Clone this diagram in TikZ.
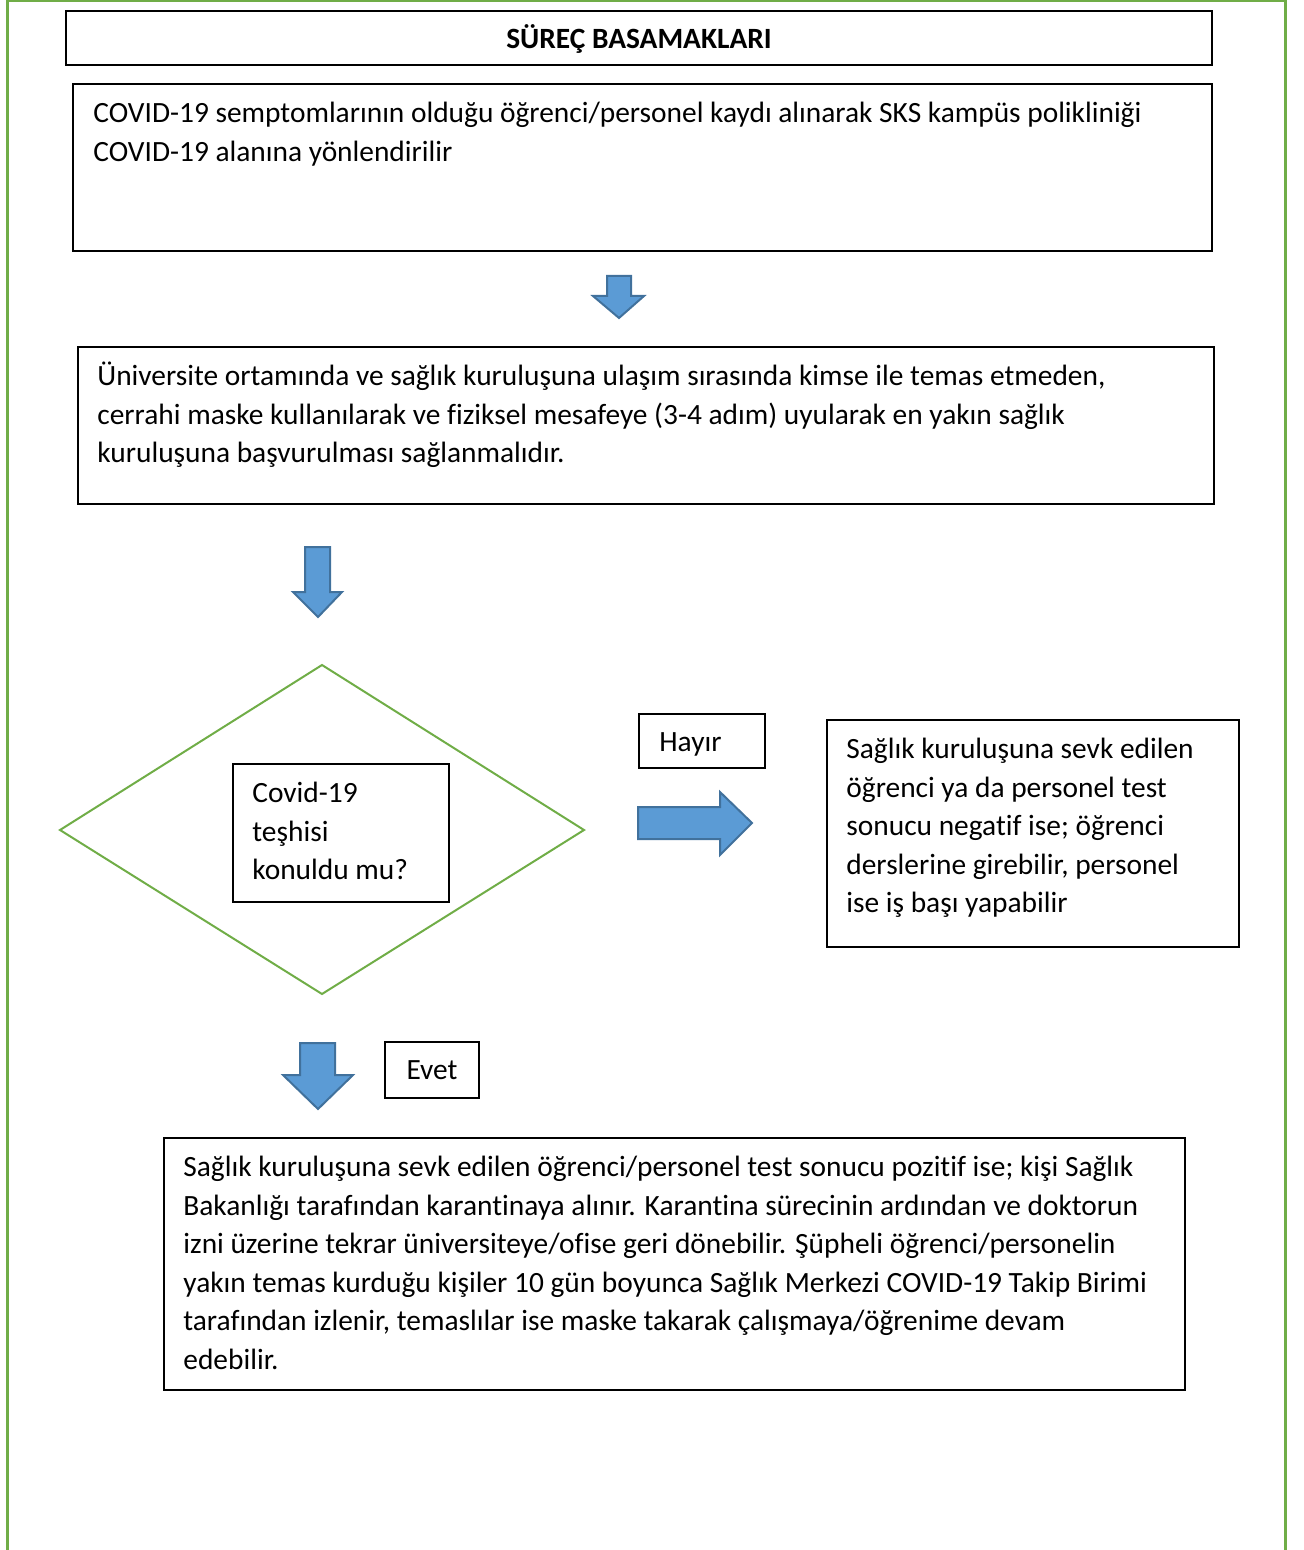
\documentclass[tikz,border=0pt]{standalone}
\usepackage{fontspec}
\setmainfont{Carlito}[Ligatures=NoCommon]
\usetikzlibrary{positioning}
\definecolor{mgreen}{HTML}{70AD47}
\definecolor{mblue}{HTML}{5B9BD5}
\definecolor{mblueline}{HTML}{41719C}

\tikzset{
  box/.style={draw=black, line width=1pt, inner sep=0pt, anchor=north west},
  txt/.style={inner sep=0pt, anchor=north west, align=left,
    font=\fontsize{14.7}{19.3}\selectfont},
  blockarrow/.style={fill=mblue, draw=mblueline, line width=1pt, line join=miter},
  frameline/.style={draw=mgreen, line width=1.5pt},
  decision/.style={draw=mgreen, line width=1pt}
}

\begin{document}
\begin{tikzpicture}[x=0.5pt, y=-0.5pt]
  \useasboundingbox (0,0) rectangle (1304,1550);
  % page frame
  \draw [frameline] (7,1550) -- (7,1) -- (1285,1) -- (1285,1550);

  % title
  \node [box, minimum width=573pt, minimum height=27pt] (title) at (65,10) {};
  \node [txt, anchor=center, font=\fontsize{14.7}{19.3}\selectfont\bfseries] (titletext) at ([yshift=-0.5pt]title.center) {SÜREÇ BASAMAKLARI};

  % step 1
  \node [box, minimum width=569.5pt, minimum height=83.5pt] (symptom) at (72,83) {};
  \node [txt] (symptomtext) at ([xshift=10.5pt, yshift=-6pt]symptom.north west)
    {\strut COVID-19 semptomlarının olduğu öğrenci/personel kaydı alınarak SKS kampüs polikliniği\\
     COVID-19 alanına yönlendirilir};

  \draw [blockarrow] (607,276) -- (631,276) -- (631,296) -- (644,296) -- (619,318)
    -- (593,296) -- (607,296) -- cycle;

  % step 2
  \node [box, minimum width=568pt, minimum height=78.5pt] (transfer) at (77,346) {};
  \node [txt] (transfertext) at ([xshift=10pt, yshift=-6pt]transfer.north west)
    {\strut Üniversite ortamında ve sağlık kuruluşuna ulaşım sırasında kimse ile temas etmeden,\\
     cerrahi maske kullanılarak ve fiziksel mesafeye (3-4 adım) uyularak en yakın sağlık\\
     kuruluşuna başvurulması sağlanmalıdır.};

  \draw [blockarrow] (305,547) -- (330,547) -- (330,592) -- (342,592) -- (318,617)
    -- (293,592) -- (305,592) -- cycle;

  % decision
  \draw [decision] (60,830) -- (322,665) -- (584,830) -- (322,994) -- cycle;
  \node [box, minimum width=108pt, minimum height=69pt] (diag) at (232,763) {};
  \node [txt] (diagtext) at ([xshift=10pt, yshift=-6pt]diag.north west)
    {\strut Covid-19\\ teşhisi\\ konuldu mu?};

  % no branch
  \node [box, minimum width=63pt, minimum height=27pt] (no) at (638,713) {};
  \node [txt, anchor=west] (notext) at ([xshift=10.5pt, yshift=-1.5pt]no.west) {Hayır};
  \draw [blockarrow] (638,807) -- (720,807) -- (720,792) -- (752,823) -- (720,855)
    -- (720,839) -- (638,839) -- cycle;
  \node [box, minimum width=206pt, minimum height=113.5pt] (negative) at (826,719) {};
  \node [txt] (negativetext) at ([xshift=10pt, yshift=-6pt]negative.north west)
    {\strut Sağlık kuruluşuna sevk edilen\\
     öğrenci ya da personel test\\
     sonucu negatif ise; öğrenci\\
     derslerine girebilir, personel\\
     ise iş başı yapabilir};

  % yes branch
  \draw [blockarrow] (300,1043) -- (335,1043) -- (335,1075) -- (353,1075) -- (318,1109)
    -- (283,1075) -- (300,1075) -- cycle;
  \node [box, minimum width=47pt, minimum height=28pt] (yes) at (384,1041) {};
  \node [txt, anchor=center] (yestext) at (yes.center) {Evet};
  \node [box, minimum width=510.5pt, minimum height=126pt] (positive) at (163,1137) {};
  \node [txt] (positivetext) at ([xshift=10pt, yshift=-6pt]positive.north west)
    {\strut Sağlık kuruluşuna sevk edilen öğrenci/personel test sonucu pozitif ise; kişi Sağlık\\
     Bakanlığı tarafından karantinaya alınır. Karantina sürecinin ardından ve doktorun\\
     izni üzerine tekrar üniversiteye/ofise geri dönebilir. Şüpheli öğrenci/personelin\\
     yakın temas kurduğu kişiler 10 gün boyunca Sağlık Merkezi COVID-19 Takip Birimi\\
     tarafından izlenir, temaslılar ise maske takarak çalışmaya/öğrenime devam\\
     edebilir.};
\end{tikzpicture}
\end{document}
